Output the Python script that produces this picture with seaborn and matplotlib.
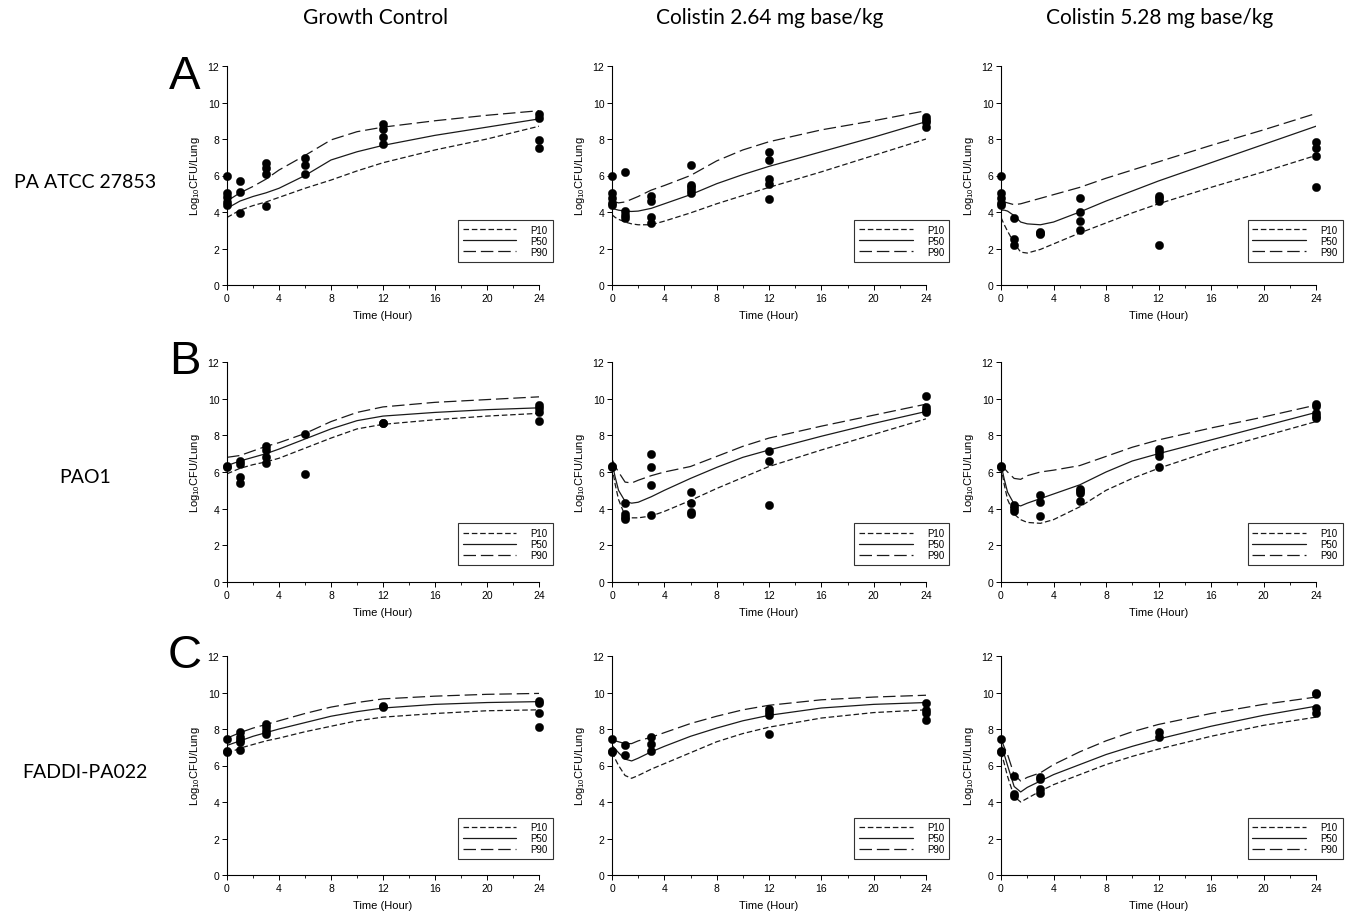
import matplotlib
matplotlib.use("Agg")
import matplotlib.pyplot as plt
import pandas as pd
import seaborn as sns
from matplotlib.ticker import MultipleLocator

sns.set_style("ticks")
plt.rcParams["font.family"] = ["Liberation Sans", "DejaVu Sans"]
plt.rcParams["mathtext.default"] = "regular"
plt.rcParams["lines.scale_dashes"] = False
for key in ("text.color", "axes.labelcolor", "xtick.color", "ytick.color"):
    plt.rcParams[key] = "black"

col_titles = ["Growth Control", "Colistin 2.64 mg base/kg", "Colistin 5.28 mg base/kg"]
row_labels = ["PA ATCC 27853", "PAO1", "FADDI-PA022"]
row_letters = ["A", "B", "C"]

# simulated percentile curves
growth_t = [0, 1, 2, 3, 4, 6, 8, 10, 12, 16, 20, 24]
drug_t = [0, 0.25, 0.5, 1, 1.5, 2, 3, 4, 6, 8, 10, 12, 16, 20, 24]

a1_p10 = [3.7, 4.1, 4.35, 4.55, 4.8, 5.3, 5.75, 6.25, 6.7, 7.4, 8.0, 8.7]
a1_p50 = [4.2, 4.6, 4.85, 5.05, 5.3, 6.0, 6.85, 7.3, 7.65, 8.2, 8.65, 9.1]
a1_p90 = [4.6, 5.05, 5.4, 5.8, 6.3, 7.1, 7.95, 8.4, 8.65, 9.0, 9.3, 9.55]

a2_p10 = [3.85, 3.7, 3.6, 3.45, 3.35, 3.3, 3.3, 3.5, 3.95, 4.45, 4.9, 5.35, 6.2, 7.1, 8.0]
a2_p50 = [4.2, 4.15, 4.1, 4.05, 4.03, 4.05, 4.2, 4.45, 4.95, 5.55, 6.05, 6.5, 7.3, 8.1, 8.95]
a2_p90 = [4.55, 4.55, 4.5, 4.55, 4.7, 4.85, 5.2, 5.45, 6.0, 6.8, 7.4, 7.85, 8.5, 9.0, 9.55]

a3_p10 = [3.7, 3.3, 2.95, 2.3, 1.8, 1.75, 1.95, 2.25, 2.85, 3.4, 3.95, 4.45, 5.35, 6.2, 7.1]
a3_p50 = [4.1, 4.1, 4.05, 3.8, 3.45, 3.35, 3.3, 3.45, 4.0, 4.6, 5.15, 5.7, 6.7, 7.7, 8.7]
a3_p90 = [4.55, 4.55, 4.5, 4.4, 4.45, 4.55, 4.75, 4.95, 5.35, 5.85, 6.3, 6.75, 7.65, 8.5, 9.4]

b1_p10 = [5.9, 6.2, 6.4, 6.55, 6.75, 7.3, 7.85, 8.35, 8.6, 8.85, 9.05, 9.2]
b1_p50 = [6.35, 6.6, 6.8, 7.0, 7.25, 7.8, 8.35, 8.8, 9.05, 9.25, 9.4, 9.5]
b1_p90 = [6.8, 6.9, 7.15, 7.4, 7.6, 8.1, 8.75, 9.25, 9.55, 9.8, 9.95, 10.1]

b2_p10 = [6.3, 5.3, 4.5, 3.6, 3.5, 3.5, 3.6, 3.85, 4.45, 5.1, 5.7, 6.3, 7.2, 8.05, 8.9]
b2_p50 = [6.5, 5.7, 5.0, 4.4, 4.3, 4.35, 4.65, 5.0, 5.65, 6.25, 6.8, 7.2, 7.95, 8.65, 9.3]
b2_p90 = [6.7, 6.3, 6.0, 5.45, 5.4, 5.55, 5.8, 6.0, 6.3, 6.85, 7.4, 7.85, 8.5, 9.1, 9.7]

b3_p10 = [6.3, 5.3, 4.5, 3.7, 3.4, 3.25, 3.2, 3.4, 4.1, 5.0, 5.65, 6.2, 7.15, 7.95, 8.75]
b3_p50 = [6.4, 5.6, 4.9, 4.25, 4.15, 4.3, 4.55, 4.8, 5.3, 6.0, 6.6, 7.0, 7.75, 8.5, 9.25]
b3_p90 = [6.5, 6.2, 6.0, 5.65, 5.6, 5.8, 6.0, 6.1, 6.35, 6.85, 7.35, 7.75, 8.4, 9.0, 9.65]

c1_p10 = [6.65, 6.95, 7.15, 7.35, 7.5, 7.85, 8.15, 8.45, 8.65, 8.85, 9.0, 9.05]
c1_p50 = [7.1, 7.35, 7.6, 7.8, 8.0, 8.35, 8.7, 8.95, 9.15, 9.35, 9.45, 9.5]
c1_p90 = [7.5, 7.8, 8.05, 8.25, 8.45, 8.85, 9.2, 9.45, 9.65, 9.8, 9.9, 9.95]

c2_p10 = [6.75, 6.35, 6.0, 5.45, 5.3, 5.45, 5.8, 6.1, 6.7, 7.3, 7.75, 8.1, 8.6, 8.9, 9.05]
c2_p50 = [7.1, 6.9, 6.7, 6.35, 6.25, 6.4, 6.75, 7.05, 7.6, 8.05, 8.45, 8.75, 9.15, 9.35, 9.45]
c2_p90 = [7.45, 7.35, 7.3, 7.2, 7.2, 7.35, 7.55, 7.8, 8.3, 8.7, 9.05, 9.3, 9.6, 9.75, 9.85]

c3_p10 = [6.75, 6.1, 5.4, 4.3, 4.0, 4.2, 4.6, 4.95, 5.5, 6.05, 6.5, 6.9, 7.6, 8.2, 8.65]
c3_p50 = [7.2, 6.6, 6.0, 4.85, 4.55, 4.8, 5.15, 5.5, 6.05, 6.6, 7.05, 7.45, 8.15, 8.75, 9.25]
c3_p90 = [7.45, 7.0, 6.6, 5.5, 5.15, 5.35, 5.6, 6.05, 6.75, 7.35, 7.85, 8.25, 8.85, 9.35, 9.75]

# observed log10 CFU/lung
a1_obs_t = [0, 0, 0, 0, 0, 1, 1, 1, 3, 3, 3, 3, 6, 6, 6, 12, 12, 12, 12, 24, 24, 24, 24]
a1_obs_y = [5.95, 5.05, 4.8, 4.55, 4.4, 5.7, 5.1, 3.95, 6.7, 6.4, 6.1, 4.35,
            6.95, 6.6, 6.1, 8.8, 8.55, 8.1, 7.75, 9.35, 9.15, 7.95, 7.5]
a2_obs_t = [0, 0, 0, 0, 0, 1, 1, 1, 1, 3, 3, 3, 3, 6, 6, 6, 6, 6,
            12, 12, 12, 12, 12, 24, 24, 24, 24]
a2_obs_y = [5.95, 5.05, 4.75, 4.5, 4.4, 6.2, 4.05, 3.85, 3.65, 4.9, 4.6, 3.7, 3.4,
            6.6, 5.5, 5.35, 5.2, 5.05, 7.3, 6.85, 5.8, 5.55, 4.7, 9.2, 9.05, 8.95, 8.65]
a3_obs_t = [0, 0, 0, 0, 0, 1, 1, 1, 3, 3, 3, 6, 6, 6, 6, 12, 12, 12, 12, 24, 24, 24, 24]
a3_obs_y = [5.95, 5.05, 4.75, 4.5, 4.4, 3.65, 2.5, 2.2, 2.9, 2.85, 2.8,
            4.75, 4.0, 3.5, 3.0, 4.85, 4.75, 4.6, 2.2, 7.85, 7.5, 7.05, 5.35]

b1_obs_t = [0, 0, 1, 1, 1, 1, 3, 3, 3, 3, 6, 6, 12, 12, 24, 24, 24, 24]
b1_obs_y = [6.35, 6.25, 6.6, 6.45, 5.75, 5.4, 7.4, 7.2, 6.8, 6.5, 8.1, 5.9,
            8.7, 8.65, 9.65, 9.5, 9.3, 8.8]
b2_obs_t = [0, 0, 1, 1, 1, 1, 3, 3, 3, 3, 6, 6, 6, 6, 12, 12, 12, 24, 24, 24, 24]
b2_obs_y = [6.35, 6.25, 4.3, 3.7, 3.55, 3.45, 7.0, 6.25, 5.3, 3.65, 4.9, 4.3, 3.8, 3.7,
            7.15, 6.6, 4.2, 10.15, 9.55, 9.4, 9.3]
b3_obs_t = [0, 0, 1, 1, 1, 3, 3, 3, 6, 6, 6, 6, 12, 12, 12, 12, 24, 24, 24, 24, 24]
b3_obs_y = [6.35, 6.25, 4.2, 4.05, 3.9, 4.75, 4.35, 3.6, 5.05, 4.95, 4.85, 4.4,
            7.25, 7.1, 6.85, 6.25, 9.7, 9.6, 9.2, 9.05, 8.95]

c1_obs_t = [0, 0, 0, 1, 1, 1, 1, 1, 3, 3, 3, 3, 12, 12, 24, 24, 24, 24]
c1_obs_y = [7.45, 6.8, 6.75, 7.85, 7.55, 7.4, 7.3, 6.85, 8.25, 8.1, 7.9, 7.7,
            9.25, 9.2, 9.55, 9.45, 8.85, 8.1]
c2_obs_t = [0, 0, 0, 1, 1, 3, 3, 3, 12, 12, 12, 12, 24, 24, 24, 24]
c2_obs_y = [7.45, 6.8, 6.75, 7.15, 6.6, 7.55, 7.2, 6.8, 9.1, 8.95, 8.75, 7.75,
            9.4, 9.05, 8.9, 8.5]
c3_obs_t = [0, 0, 0, 1, 1, 1, 3, 3, 3, 3, 12, 12, 24, 24, 24, 24]
c3_obs_y = [7.45, 6.8, 6.75, 5.45, 4.45, 4.35, 5.35, 5.25, 4.7, 4.5, 7.85, 7.55,
            10.0, 9.9, 9.15, 8.85]

panels = [
    [(growth_t, a1_p10, a1_p50, a1_p90, a1_obs_t, a1_obs_y),
     (drug_t, a2_p10, a2_p50, a2_p90, a2_obs_t, a2_obs_y),
     (drug_t, a3_p10, a3_p50, a3_p90, a3_obs_t, a3_obs_y)],
    [(growth_t, b1_p10, b1_p50, b1_p90, b1_obs_t, b1_obs_y),
     (drug_t, b2_p10, b2_p50, b2_p90, b2_obs_t, b2_obs_y),
     (drug_t, b3_p10, b3_p50, b3_p90, b3_obs_t, b3_obs_y)],
    [(growth_t, c1_p10, c1_p50, c1_p90, c1_obs_t, c1_obs_y),
     (drug_t, c2_p10, c2_p50, c2_p90, c2_obs_t, c2_obs_y),
     (drug_t, c3_p10, c3_p50, c3_p90, c3_obs_t, c3_obs_y)],
]

W, H = 1355, 920
col_x = [(227, 539), (612, 926), (1001, 1316)]
row_y = [(67, 286), (363, 583), (657, 876)]
leg_right = [1.06, 1.09, 1.10]
leg_bottom = [0.085, 0.055, 0.05]
line_styles = {"P10": (0, (4, 2)), "P50": "-", "P90": (0, (9, 3.5))}

fig = plt.figure(figsize=(W / 100, H / 100), dpi=100)

for r in range(3):
    for c in range(3):
        x0, x1 = col_x[c]
        y0, y1 = row_y[r]
        ax = fig.add_axes([x0 / W, 1 - y1 / H, (x1 - x0) / W, (y1 - y0) / H])
        t, p10, p50, p90, ot, oy = panels[r][c]

        for name, vals in (("P10", p10), ("P50", p50), ("P90", p90)):
            curve = pd.DataFrame({"time": t, "value": vals})
            sns.lineplot(data=curve, x="time", y="value", ax=ax, color="#1a1a1a",
                         linewidth=0.9, linestyle=line_styles[name], label=name)

        obs = pd.DataFrame({"time": ot, "value": oy})
        sns.scatterplot(data=obs, x="time", y="value", ax=ax, color="black",
                        s=36, edgecolor="black", linewidth=0.3, clip_on=False, zorder=5)

        ax.set_xlim(0, 24)
        ax.set_ylim(0, 12)
        ax.set_xticks([0, 4, 8, 12, 16, 20, 24])
        ax.set_yticks([0, 2, 4, 6, 8, 10, 12])
        ax.xaxis.set_minor_locator(MultipleLocator(2))
        ax.tick_params(axis="both", which="major", labelsize=7.5, length=3.5, width=0.7, pad=2)
        ax.tick_params(axis="x", which="minor", length=2, width=0.6)
        for side in ("top", "right"):
            ax.spines[side].set_visible(False)
        for side in ("left", "bottom"):
            ax.spines[side].set_linewidth(0.8)
            ax.spines[side].set_color("black")
        ax.set_xlabel("Time (Hour)", fontsize=8, labelpad=5)
        ax.set_ylabel("Log$_{10}$CFU/Lung", fontsize=8, labelpad=4)

        leg = ax.legend(loc="lower right", bbox_to_anchor=(leg_right[c], leg_bottom[r]),
                        fontsize=7, handlelength=5.5, handletextpad=1.5,
                        labelspacing=0.1, borderpad=0.5, fancybox=False,
                        frameon=True, framealpha=1)
        leg.get_frame().set_edgecolor("#333333")
        leg.get_frame().set_linewidth(0.8)

col_cx = [376, 770, 1160]
for c in range(3):
    fig.text(col_cx[c] / W, 1 - 18 / H, col_titles[c], ha="center", va="center",
             fontsize=15, family=["Lato", "DejaVu Sans"])

row_cy = [183, 478, 773]
letter_cy = [77, 362, 656]
for r in range(3):
    fig.text(85 / W, 1 - row_cy[r] / H, row_labels[r], ha="center", va="center",
             fontsize=14, family=["Lato", "DejaVu Sans"])
    fig.text(185 / W, 1 - letter_cy[r] / H, row_letters[r], ha="center", va="center",
             fontsize=34)

fig.savefig("out.png", dpi=100)
plt.close(fig)
